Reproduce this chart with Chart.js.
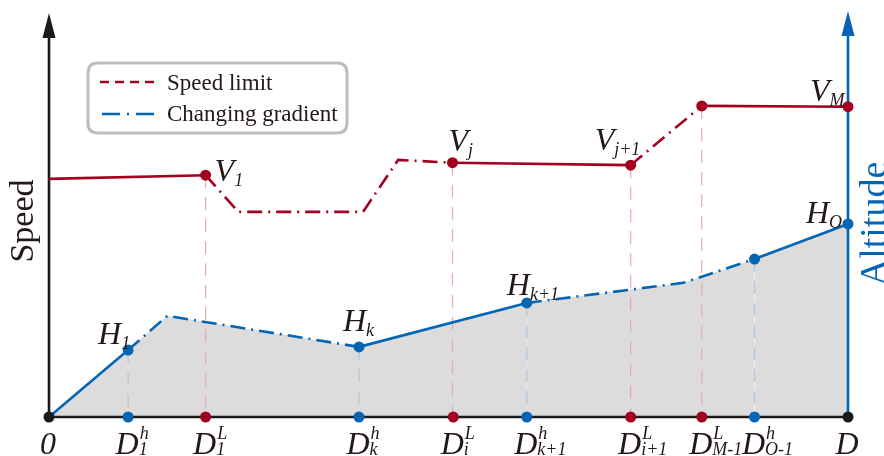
<!DOCTYPE html>
<html>
<head>
<meta charset="utf-8">
<script src="https://cdn.jsdelivr.net/npm/chart.js@4.4.1/dist/chart.umd.min.js"></script>
<style>
  html, body { margin: 0; padding: 0; background: #fff; }
  #wrap { width: 884px; height: 456px; position: relative; }
</style>
</head>
<body>
<div id="wrap"><canvas id="chart"></canvas></div>
<script>
// Distance ticks along the x axis (0..100 stands for 0..D)
const tickPos  = [0, 9.9, 19.6, 38.8, 50.6, 59.8, 72.8, 81.7, 88.3, 100];
const tickBase = ['0', 'D', 'D', 'D', 'D', 'D', 'D', 'D', 'D', 'D'];
const tickSup  = ['', 'h', 'L', 'h', 'L', 'h', 'L', 'L', 'h', ''];
const tickSub  = ['', '1', '1', 'k', 'i', 'k+1', 'i+1', 'M-1', 'O-1', ''];
const tickKind = ['end', 'h', 'L', 'h', 'L', 'h', 'L', 'L', 'h', 'end'];

// Speed limit profile
const speedX      = [0, 19.6, 23.7, 39.3, 43.7, 50.5, 72.8, 81.7, 100];
const speedY      = [59.1, 60.0, 50.9, 50.9, 63.8, 63.1, 62.5, 77.2, 77.0];
const speedDashed = [false, true, true, true, true, false, true, false];
const speedMarked = [false, true, false, false, false, true, true, true, true];
const speedBase   = ['', 'V', '', '', '', 'V', 'V', '', 'V'];
const speedSub    = ['', '1', '', '', '', 'j', 'j+1', '', 'M'];

// Altitude profile
const altX      = [0, 9.9, 14.8, 38.8, 59.8, 79.4, 88.3, 100];
const altY      = [0, 16.6, 25.1, 17.4, 28.3, 33.3, 39.2, 47.9];
const altDashed = [false, true, true, false, true, true, false];
const altMarked = [false, true, false, true, true, false, true, true];
const altBase   = ['', 'H', '', 'H', 'H', '', '', 'H'];
const altSub    = ['', '1', '', 'k', 'k+1', '', '', 'O'];

// label placement relative to the point (px)
const speedLabelShift = { 1: [9, 6], 5: [-4, -12], 6: [-36, -15], 8: [-38, -6] };
const altLabelShift   = { 1: [-30, -6], 3: [-16, -16], 4: [-20, -8], 7: [-42, -1] };

const RED = '#a3001f';
const BLUE = '#0565b5';
const INK = '#231815';
const GRAY = '#dcdcdc';
const DASHDOT = [15, 6, 2, 6];
const SERIF = '"Liberation Serif", "Times New Roman", serif';

// italic symbol with optional sub/superscript
function symbol(ctx, x, y, base, sub, sup, size, subDrop) {
    ctx.font = 'italic ' + size + 'px ' + SERIF;
    ctx.textAlign = 'left';
    ctx.textBaseline = 'alphabetic';
    ctx.fillText(base, x, y);
    const w = ctx.measureText(base).width;
    ctx.font = 'italic ' + Math.round(size * 0.57) + 'px ' + SERIF;
    if (sub) ctx.fillText(sub, x + w, y + size * subDrop);
    if (sup) ctx.fillText(sup, x + w + 1, y - size * 0.46);
}

function roundRect(ctx, x, y, w, h, r) {
    ctx.beginPath();
    ctx.moveTo(x + r, y);
    ctx.lineTo(x + w - r, y);
    ctx.quadraticCurveTo(x + w, y, x + w, y + r);
    ctx.lineTo(x + w, y + h - r);
    ctx.quadraticCurveTo(x + w, y + h, x + w - r, y + h);
    ctx.lineTo(x + r, y + h);
    ctx.quadraticCurveTo(x, y + h, x, y + h - r);
    ctx.lineTo(x, y + r);
    ctx.quadraticCurveTo(x, y, x + r, y);
    ctx.closePath();
}

const schematic = {
    id: 'schematic',
    beforeDatasetsDraw(chart) {
        const ctx = chart.ctx;
        const a = chart.chartArea;
        const sx = chart.scales.x, sy = chart.scales.y;
        ctx.save();

        // drop lines from the marked points to the axis
        ctx.lineWidth = 1.2;
        ctx.setLineDash([13, 9]);
        ctx.strokeStyle = '#e9a9b2';
        speedX.forEach((v, i) => {
            if (!speedMarked[i] || v >= 100) return;
            const px = sx.getPixelForValue(v);
            ctx.beginPath();
            ctx.moveTo(px, sy.getPixelForValue(speedY[i]));
            ctx.lineTo(px, a.bottom);
            ctx.stroke();
        });
        ctx.strokeStyle = '#abc6df';
        altX.forEach((v, i) => {
            if (!altMarked[i] || v >= 100) return;
            const px = sx.getPixelForValue(v);
            ctx.beginPath();
            ctx.moveTo(px, sy.getPixelForValue(altY[i]));
            ctx.lineTo(px, a.bottom);
            ctx.stroke();
        });
        ctx.setLineDash([]);

        // axes with arrow heads
        ctx.lineWidth = 2.6;
        ctx.strokeStyle = '#1a1a1a';
        ctx.beginPath();
        ctx.moveTo(a.left, a.bottom);
        ctx.lineTo(a.right, a.bottom);
        ctx.moveTo(a.left, a.bottom);
        ctx.lineTo(a.left, a.top + 20);
        ctx.stroke();
        ctx.fillStyle = '#1a1a1a';
        ctx.beginPath();
        ctx.moveTo(a.left, a.top - 1);
        ctx.lineTo(a.left - 6.5, a.top + 24);
        ctx.lineTo(a.left + 6.5, a.top + 24);
        ctx.closePath();
        ctx.fill();

        ctx.strokeStyle = BLUE;
        ctx.beginPath();
        ctx.moveTo(a.right, a.bottom);
        ctx.lineTo(a.right, a.top + 18);
        ctx.stroke();
        ctx.fillStyle = BLUE;
        ctx.beginPath();
        ctx.moveTo(a.right, a.top - 3);
        ctx.lineTo(a.right - 6.5, a.top + 22);
        ctx.lineTo(a.right + 6.5, a.top + 22);
        ctx.closePath();
        ctx.fill();
        ctx.restore();
    },
    afterDatasetsDraw(chart) {
        const ctx = chart.ctx;
        const a = chart.chartArea;
        const sx = chart.scales.x, sy = chart.scales.y;
        ctx.save();
        ctx.fillStyle = INK;

        // point names
        speedX.forEach((v, i) => {
            if (!speedBase[i]) return;
            const s = speedLabelShift[i];
            symbol(ctx, sx.getPixelForValue(v) + s[0], sy.getPixelForValue(speedY[i]) + s[1],
                   speedBase[i], speedSub[i], '', 32, 0.16);
        });
        altX.forEach((v, i) => {
            if (!altBase[i]) return;
            const s = altLabelShift[i];
            symbol(ctx, sx.getPixelForValue(v) + s[0], sy.getPixelForValue(altY[i]) + s[1],
                   altBase[i], altSub[i], '', 32, 0.16);
        });

        // distance tick labels
        tickPos.forEach((v, i) => {
            const px = sx.getPixelForValue(v);
            ctx.font = 'italic 32px ' + SERIF;
            const w = ctx.measureText(tickBase[i]).width;
            symbol(ctx, px - w / 2 - 1, a.bottom + 37, tickBase[i], tickSub[i], tickSup[i], 32, 0.04);
        });

        // legend
        roundRect(ctx, 88, 63, 259, 70, 10);
        ctx.fillStyle = '#fff';
        ctx.fill();
        ctx.lineWidth = 3;
        ctx.strokeStyle = '#bdbdbd';
        ctx.stroke();
        ctx.lineWidth = 2.4;
        ctx.strokeStyle = RED;
        ctx.setLineDash([9, 6]);
        ctx.beginPath();
        ctx.moveTo(100, 82);
        ctx.lineTo(158, 82);
        ctx.stroke();
        ctx.strokeStyle = BLUE;
        ctx.setLineDash([18, 7, 2, 7]);
        ctx.beginPath();
        ctx.moveTo(102, 114);
        ctx.lineTo(160, 114);
        ctx.stroke();
        ctx.setLineDash([]);
        ctx.fillStyle = INK;
        ctx.font = '23px ' + SERIF;
        ctx.textAlign = 'left';
        ctx.fillText(chart.data.datasets[0].label, 167, 90);
        ctx.fillText(chart.data.datasets[1].label, 167, 121);

        // axis titles
        ctx.font = '34px ' + SERIF;
        ctx.textAlign = 'center';
        ctx.save();
        ctx.translate(33, 221);
        ctx.rotate(-Math.PI / 2);
        ctx.fillText('Speed', 0, 0);
        ctx.restore();
        ctx.fillStyle = BLUE;
        ctx.font = '38px ' + SERIF;
        ctx.save();
        ctx.translate(886, 224);
        ctx.rotate(-Math.PI / 2);
        ctx.fillText('Altitude', 0, 0);
        ctx.restore();
        ctx.restore();
    }
};

new Chart(document.getElementById('chart'), {
    type: 'line',
    data: {
        datasets: [
            {
                label: 'Speed limit',
                data: speedX.map((x, i) => ({ x: x, y: speedY[i] })),
                borderColor: RED,
                borderWidth: 2.6,
                fill: false,
                tension: 0,
                pointRadius: speedMarked.map(m => m ? 5.5 : 0),
                pointBackgroundColor: RED,
                pointBorderWidth: 0,
                segment: { borderDash: c => speedDashed[c.p0DataIndex] ? DASHDOT : undefined },
                clip: false,
                order: 1
            },
            {
                label: 'Changing gradient',
                data: altX.map((x, i) => ({ x: x, y: altY[i] })),
                borderColor: BLUE,
                backgroundColor: GRAY,
                borderWidth: 2.6,
                fill: 'origin',
                tension: 0,
                pointRadius: altMarked.map(m => m ? 5.5 : 0),
                pointBackgroundColor: BLUE,
                pointBorderWidth: 0,
                segment: { borderDash: c => altDashed[c.p0DataIndex] ? DASHDOT : undefined },
                clip: false,
                order: 2
            },
            {
                label: 'marks',
                data: tickPos.map(x => ({ x: x, y: 0 })),
                showLine: false,
                pointRadius: 5.5,
                pointBackgroundColor: tickKind.map(k => k === 'h' ? BLUE : (k === 'L' ? RED : '#1a1a1a')),
                pointBorderWidth: 0,
                clip: false,
                order: 0
            }
        ]
    },
    options: {
        responsive: true,
        maintainAspectRatio: false,
        animation: false,
        events: [],
        layout: { padding: { left: 49, right: 36, top: 14, bottom: 39 } },
        scales: {
            x: { type: 'linear', min: 0, max: 100, display: false },
            y: { type: 'linear', min: 0, max: 100, display: false }
        },
        plugins: {
            legend: { display: false },
            tooltip: { enabled: false },
            filler: { drawTime: 'beforeDatasetsDraw' }
        }
    },
    plugins: [schematic]
});
</script>
</body>
</html>
